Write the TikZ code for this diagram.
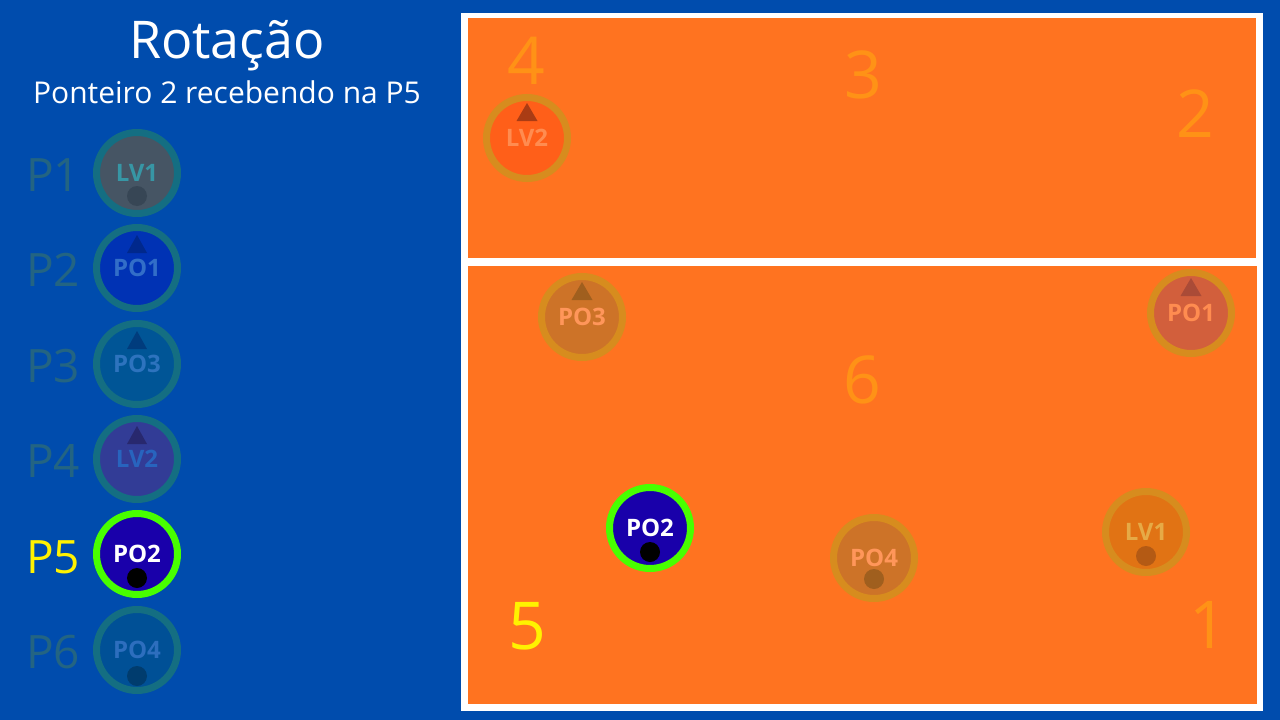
\documentclass[tikz,border=0pt]{standalone}
\usepackage{fontspec}
\setmainfont{Open Sans}
\usetikzlibrary{calc}
\definecolor{bgblue}{RGB}{0,76,173}
\definecolor{court}{RGB}{255,115,32}
\definecolor{numc}{RGB}{255,146,22}
\definecolor{plab}{RGB}{35,100,130}
\definecolor{ringfade}{RGB}{20,110,130}
\definecolor{ringc}{RGB}{215,140,30}
\definecolor{ringgreen}{RGB}{72,255,0}
\definecolor{pofill}{RGB}{25,0,170}
\definecolor{aFill}{RGB}{70,85,100}\definecolor{aTxt}{RGB}{55,150,165}\definecolor{aDot}{RGB}{55,70,85}
\definecolor{bFill}{RGB}{0,50,180}\definecolor{bTxt}{RGB}{50,110,200}\definecolor{bTri}{RGB}{0,40,140}
\definecolor{cFill}{RGB}{0,85,150}\definecolor{cTxt}{RGB}{45,115,190}\definecolor{cTri}{RGB}{0,60,125}
\definecolor{dFill}{RGB}{50,60,150}\definecolor{dTxt}{RGB}{40,100,190}\definecolor{dTri}{RGB}{40,40,110}
\definecolor{fFill}{RGB}{0,80,150}\definecolor{fTxt}{RGB}{45,110,190}\definecolor{fDot}{RGB}{0,60,110}
\definecolor{lv2Fill}{RGB}{255,95,25}\definecolor{lv2Tri}{RGB}{170,60,20}\definecolor{lv2Txt}{RGB}{255,140,80}
\definecolor{poFillC}{RGB}{205,115,40}\definecolor{poTriC}{RGB}{160,95,30}\definecolor{poTxtC}{RGB}{255,150,90}
\definecolor{po1Fill}{RGB}{210,95,60}\definecolor{po1Tri}{RGB}{170,75,55}\definecolor{po1Txt}{RGB}{255,140,80}
\definecolor{lv1Fill}{RGB}{225,115,20}\definecolor{lv1Dot}{RGB}{180,90,20}\definecolor{lv1Txt}{RGB}{230,170,70}
\tikzset{
  player/.style={circle, minimum size=81pt, line width=7pt, inner sep=0pt, font=\fontsize{24}{27}\selectfont\bfseries},
  plabel/.style={font=\fontsize{46}{50}\selectfont, text=plab, inner sep=0pt},
  courtnum/.style={font=\fontsize{66}{72}\selectfont, text=numc, inner sep=0pt},
}
\begin{document}
\begin{tikzpicture}[x=1pt,y=-1pt]
\fill[bgblue] (0,0) rectangle (1280,720);
\useasboundingbox (0,0) rectangle (1280,720);
% court
\fill[white] (461,13) rectangle (1263,711);
\fill[court] (468,18) rectangle (1256,258);
\fill[court] (468,266) rectangle (1257,704);
% titles
\node[text=white, font=\fontsize{52}{58}\selectfont, inner sep=0pt] (title) at (227,46) {Rotação};
\node[text=white, font=\fontsize{30}{34}\selectfont, inner sep=0pt] (sub) at (227,92) {Ponteiro 2 recebendo na P5};
% left list labels
\node[plabel] (l1) at (53,175) {P1};
\node[plabel] (l2) at (53,270) {P2};
\node[plabel] (l3) at (53,366) {P3};
\node[plabel] (l4) at (53,461) {P4};
\node[plabel, text=yellow] (l5) at (53,557) {P5};
\node[plabel] (l6) at (53,652) {P6};
% left list players
\node[player, draw=ringfade, fill=aFill, text=aTxt] (q1) at (137,173) {LV1};
\fill[aDot] ($(q1)+(0,23)$) circle (10pt);
\node[player, draw=ringfade, fill=bFill, text=bTxt] (q2) at (137,268) {PO1};
\fill[bTri] ($(q2)+(0,-33)$) -- ($(q2)+(-10,-15)$) -- ($(q2)+(10,-15)$) -- cycle;
\node[player, draw=ringfade, fill=cFill, text=cTxt] (q3) at (137,364) {PO3};
\fill[cTri] ($(q3)+(0,-33)$) -- ($(q3)+(-10,-15)$) -- ($(q3)+(10,-15)$) -- cycle;
\node[player, draw=ringfade, fill=dFill, text=dTxt] (q4) at (137,459) {LV2};
\fill[dTri] ($(q4)+(0,-33)$) -- ($(q4)+(-10,-15)$) -- ($(q4)+(10,-15)$) -- cycle;
\node[player, draw=ringgreen, fill=pofill, text=white] (q5) at (137,554) {PO2};
\fill[black] ($(q5)+(0,24)$) circle (10pt);
\node[player, draw=ringfade, fill=fFill, text=fTxt] (q6) at (137,650) {PO4};
\fill[fDot] ($(q6)+(0,26)$) circle (10pt);
% court numbers
\node[courtnum] (n4) at (526,61) {4};
\node[courtnum] (n3) at (863,75) {3};
\node[courtnum] (n2) at (1195,114) {2};
\node[courtnum] (n6) at (862,380) {6};
\node[courtnum, text=yellow] (n5) at (527,626) {5};
\node[courtnum] (n1) at (1208,625) {1};
% court players
\node[player, draw=ringc, fill=lv2Fill, text=lv2Txt] (c4) at (527,138) {LV2};
\fill[lv2Tri] ($(c4)+(0,-35)$) -- ($(c4)+(-10.5,-17)$) -- ($(c4)+(10.5,-17)$) -- cycle;
\node[player, draw=ringc, fill=poFillC, text=poTxtC] (c3) at (582,317) {PO3};
\fill[poTriC] ($(c3)+(0,-35)$) -- ($(c3)+(-10.5,-17)$) -- ($(c3)+(10.5,-17)$) -- cycle;
\node[player, draw=ringc, fill=po1Fill, text=po1Txt] (c2) at (1191,313) {PO1};
\fill[po1Tri] ($(c2)+(0,-35)$) -- ($(c2)+(-10.5,-17)$) -- ($(c2)+(10.5,-17)$) -- cycle;
\node[player, draw=ringgreen, fill=pofill, text=white] (c5) at (650,528) {PO2};
\fill[black] ($(c5)+(0,24)$) circle (10pt);
\node[player, draw=ringc, fill=poFillC, text=poTxtC] (c6) at (874,558) {PO4};
\fill[poTriC] ($(c6)+(0,21)$) circle (10pt);
\node[player, draw=ringc, fill=lv1Fill, text=lv1Txt] (c1) at (1146,532) {LV1};
\fill[lv1Dot] ($(c1)+(0,24)$) circle (10pt);
\end{tikzpicture}
\end{document}
